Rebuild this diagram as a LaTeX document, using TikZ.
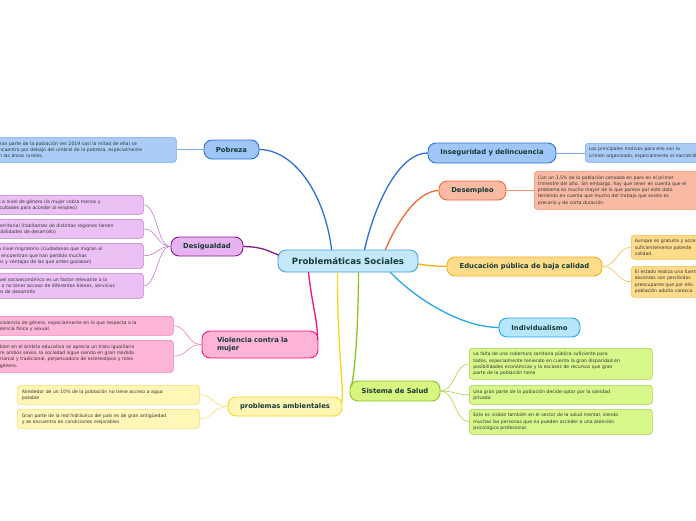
\documentclass[tikz,border=0pt]{standalone}
\usepackage{fontspec}
\setmainfont{DejaVu Sans}
\usetikzlibrary{calc}
\definecolor{txt}{HTML}{173A36}
\definecolor{ltxt}{HTML}{333333}
\definecolor{cF}{HTML}{C2E8FA}\definecolor{cB}{HTML}{4AA3DC}
\definecolor{bF}{HTML}{9EC6F6}\definecolor{bB}{HTML}{2E6FD6}\definecolor{bL}{HTML}{A9CDF7}\definecolor{bLB}{HTML}{7AAAEC}
\definecolor{pF}{HTML}{E6B2F0}\definecolor{pB}{HTML}{7E1F86}\definecolor{pL}{HTML}{EBC0F5}\definecolor{pLB}{HTML}{C27BD0}
\definecolor{kF}{HTML}{FFB3D5}\definecolor{kB}{HTML}{F0147C}\definecolor{kL}{HTML}{FDB6D5}\definecolor{kLB}{HTML}{F57FB5}
\definecolor{yF}{HTML}{FFF6B5}\definecolor{yB}{HTML}{F2D81E}\definecolor{yL}{HTML}{FFF6B8}\definecolor{yLB}{HTML}{F3DE70}
\definecolor{gF}{HTML}{D8F57F}\definecolor{gB}{HTML}{8FC224}\definecolor{gL}{HTML}{D8F78A}\definecolor{gLB}{HTML}{A6D44A}
\definecolor{iF}{HTML}{B6E6FB}\definecolor{iB}{HTML}{26A6E3}
\definecolor{eF}{HTML}{FFDC8C}\definecolor{eB}{HTML}{F5AE14}\definecolor{eLB}{HTML}{F7C04D}
\definecolor{dF}{HTML}{F8BAA3}\definecolor{dB}{HTML}{F06A35}\definecolor{dLB}{HTML}{F29070}
\tikzset{
  mainnode/.style={draw, rounded corners=8pt, line width=0.9pt, text=txt,
    font=\bfseries\fontsize{6.8}{8}\selectfont, inner sep=0pt},
  leafnode/.style={draw, rounded corners=3pt, line width=0.6pt, text=ltxt,
    font=\fontsize{4.6}{6.3}\selectfont, align=left, inner sep=0pt, anchor=north west},
  branch/.style={line width=1.3pt, line cap=round},
  twig/.style={line width=0.6pt},
}
\begin{document}
\begin{tikzpicture}[x=1pt,y=-1pt]
\useasboundingbox (0,0) rectangle (696,520);
\fill[white] (0,0) rectangle (696,520);

% ---------- main nodes
\node[mainnode, fill=cF, draw=cB, minimum width=140pt, minimum height=22pt,
  font=\bfseries\fontsize{8.6}{10}\selectfont] (pc) at (348,261) {Problemáticas Sociales};
\node[mainnode, fill=bF, draw=bB, minimum width=55pt, minimum height=19pt] (pob) at (231.5,149.5) {Pobreza};
\node[mainnode, fill=pF, draw=pB, minimum width=72pt, minimum height=19pt] (des) at (207,246.5) {Desigualdad};
\node[mainnode, fill=kF, draw=kB, minimum width=116pt, minimum height=27pt, align=left,
  text width=86pt] (vio) at (260,344.5) {Violencia contra la\\mujer};
\node[mainnode, fill=yF, draw=yB, minimum width=114pt, minimum height=19pt] (amb) at (285,406.5) {problemas ambientales};
\node[mainnode, fill=gF, draw=gB, minimum width=90pt, minimum height=20pt] (sal) at (395,391) {Sistema de Salud};
\node[mainnode, fill=iF, draw=iB, minimum width=81pt, minimum height=19pt] (ind) at (539.5,327.5) {Individualismo};
\node[mainnode, fill=eF, draw=eB, minimum width=155pt, minimum height=19pt] (edu) at (524.5,266.5) {Educación pública de baja calidad};
\node[mainnode, fill=dF, draw=dB, minimum width=67pt, minimum height=19pt] (dem) at (472.5,190.5) {Desempleo};
\node[mainnode, fill=bF, draw=bB, minimum width=128pt, minimum height=20pt] (ins) at (492,153) {Inseguridad y delincuencia};

% ---------- leaves, left side
\node[leafnode, fill=bL, draw=bLB, minimum width=182pt, minimum height=25pt, text width=178pt] (pobA) at (-6,137)
  {Gran parte de la población (en 2019 casi la mitad de ella) se\\encuentra por debajo del umbral de la pobreza, especialmente\\en las áreas rurales.};

\node[leafnode, fill=pL, draw=pLB, minimum width=147pt, minimum height=19pt, text width=143pt] (desA) at (-4,195)
  {s a nivel de género (la mujer cobra menos y\\icultades para acceder al empleo)};
\node[leafnode, fill=pL, draw=pLB, minimum width=147pt, minimum height=19pt, text width=143pt] (desB) at (-4,219)
  {territorial (habitantes de distintas regiones tienen\\sibilidades de desarrollo)};
\node[leafnode, fill=pL, draw=pLB, minimum width=147pt, minimum height=25pt, text width=143pt] (desC) at (-4,243)
  {a nivel migratorio (ciudadanos que migran al\\\ \ encuentran que han perdido muchas\\es y ventajas de las que antes gozaban)};
\node[leafnode, fill=pL, draw=pLB, minimum width=147pt, minimum height=25pt, text width=143pt] (desD) at (-4,273)
  {ivel socioeconómico es un factor relevante a la\\r o no tener acceso de diferentes bienes, servicios\\es de desarrollo};

\node[leafnode, fill=kL, draw=kLB, minimum width=177pt, minimum height=19pt, text width=173pt] (vioA) at (-4,316)
  {\ violencia de género, especialmente en lo que respecta a la\\olencia física y sexual.};
\node[leafnode, fill=kL, draw=kLB, minimum width=177pt, minimum height=32pt, text width=173pt] (vioB) at (-4,340)
  {\ bien en el ámbito educativo se aprecia un trato igualitario\\tre ambos sexos, la sociedad sigue siendo en gran medida\\triarcal y tradicional, perpetuadora de estereotipos y roles\\\ género.};

\node[leafnode, fill=yL, draw=yLB, minimum width=182pt, minimum height=19pt, text width=176pt] (ambA) at (17,385)
  {\ Alrededor de un 10\% de la población no tiene acceso a agua\\\ potable};
\node[leafnode, fill=yL, draw=yLB, minimum width=182pt, minimum height=19pt, text width=176pt] (ambB) at (17,409)
  {\ Gran parte de la red hidráulica del país es de gran antigüedad\\\ y se encuentra en condiciones mejorables};

% ---------- leaves, right side
\node[leafnode, fill=gL, draw=gLB, minimum width=183pt, minimum height=31pt, text width=178pt] (salA) at (469,348)
  {\ La falta de una cobertura sanitaria pública suficiente para\\\ todos, especialmente teniendo en cuenta la gran disparidad en\\\ posibilidades económicas y la escasez de recursos que gran\\\ parte de la población tiene};
\node[leafnode, fill=gL, draw=gLB, minimum width=183pt, minimum height=19pt, text width=178pt] (salB) at (469,385)
  {\ Una gran parte de la población decide optar por la sanidad\\\ privada};
\node[leafnode, fill=gL, draw=gLB, minimum width=183pt, minimum height=25pt, text width=178pt] (salC) at (469,409)
  {\ Esto es visible también en el sector de la salud mental, siendo\\\ muchas las personas que no pueden acceder a una atención\\\ psicológica profesional.};

\node[leafnode, fill=bL, draw=bLB, minimum width=160pt, minimum height=19pt, text width=156pt] (insA) at (585,143)
  {\ Los principales motivos para ello son la\\\ crimen organizado, especialmente el narcotráfico};
\node[leafnode, fill=dF, draw=dLB, minimum width=200pt, minimum height=38pt, text width=196pt] (demA) at (534,171)
  {\ Con un 3,5\% de la población censada en paro en el primer\\\ trimestre del año. Sin embargo, hay que tener en cuenta que el\\\ problema es mucho mayor de lo que parece por este dato\\\ teniendo en cuenta que mucho del trabajo que existe es\\\ precario y de corta duración.};
\node[leafnode, fill=eF, draw=eLB, minimum width=120pt, minimum height=24pt, text width=116pt] (eduA) at (631,235)
  {\ Aunque es gratuita y accesible\\\ suficientemente potente\\\ calidad.};
\node[leafnode, fill=eF, draw=eLB, minimum width=120pt, minimum height=31pt, text width=116pt] (eduB) at (631,266)
  {\ El estado realiza una fuerte\\\ docentes son percibidos\\\ preocupante que por ello\\\ población adulta carezca};

% ---------- main branches
\draw[branch, draw=bB] ($(pc.north west)+(54,0)$) .. controls (325,195) and (295,150) .. (pob.east);
\draw[branch, draw=pB] ($(pc.west)+(1,-6)$) .. controls (266,250) and (262,247) .. (des.east);
\draw[branch, draw=kB] ($(pc.south west)+(31,0)$) .. controls (312,305) and (318,322) .. ($(vio.east)+(-1,-5)$);
\draw[branch, draw=yB] ($(pc.south west)+(60,0)$) .. controls (337,350) and (345,392) .. ($(amb.east)+(-1,-4)$);
\draw[branch, draw=gB] ($(pc.south west)+(81,0)$) .. controls (358,335) and (355,368) .. ($(sal.west)+(2,-5)$);
\draw[branch, draw=iB] ($(pc.south east)+(-28,0)$) .. controls (415,298) and (460,327) .. (ind.west);
\draw[branch, draw=eB] ($(pc.east)+(0,3)$) .. controls (430,266) and (435,266) .. (edu.west);
\draw[branch, draw=dB] ($(pc.north east)+(-33,0)$) .. controls (398,220) and (418,191) .. (dem.west);
\draw[branch, draw=bB] ($(pc.north west)+(87,0)$) .. controls (376,200) and (400,153) .. (ins.west);

% ---------- twigs
\draw[twig, draw=bLB] (pob.west) -- (pobA.east |- pob.west);
\foreach \l in {desA,desB,desC,desD}
  \draw[twig, draw=pLB] (des.west) .. controls (157,246.5) and (157,0 |- \l.east) .. (\l.east);
\foreach \l in {vioA,vioB}
  \draw[twig, draw=kLB] (vio.west) .. controls (187,344.5) and (187,0 |- \l.east) .. (\l.east);
\foreach \l in {ambA,ambB}
  \draw[twig, draw=yLB] (amb.west) .. controls (213,406.5) and (213,0 |- \l.east) .. (\l.east);
\foreach \l in {salA,salB,salC}
  \draw[twig, draw=gLB] (sal.east) .. controls (455,391) and (455,0 |- \l.west) .. (\l.west);
\foreach \l in {eduA,eduB}
  \draw[twig, draw=eLB] (edu.east) .. controls (617,266.5) and (617,0 |- \l.west) .. (\l.west);
\draw[twig, draw=bLB] (ins.east) -- (insA.west |- ins.east);
\draw[twig, draw=dLB] (dem.east) -- (demA.west |- dem.east);
\end{tikzpicture}
\end{document}
